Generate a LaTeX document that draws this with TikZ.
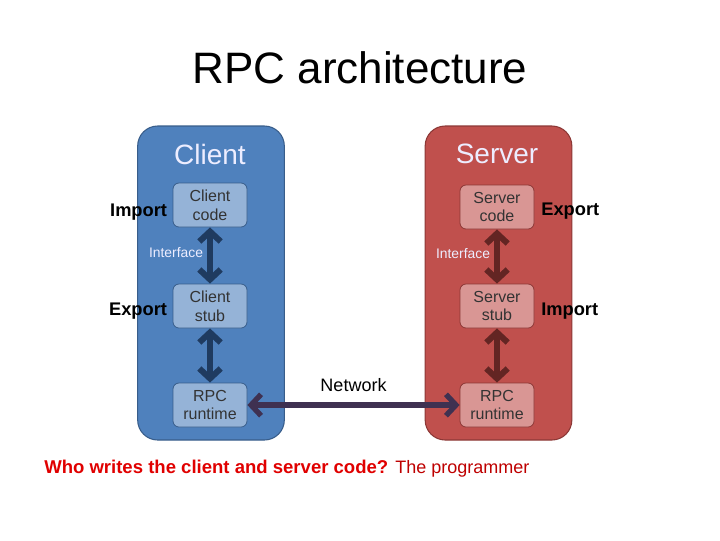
\documentclass[tikz,border=0pt]{standalone}
\usepackage{fontspec}
\setmainfont{Liberation Sans}
\usetikzlibrary{arrows.meta,positioning}
\definecolor{cfill}{HTML}{4F81BD}
\definecolor{cdraw}{HTML}{385D8A}
\definecolor{cinner}{HTML}{95B3D7}
\definecolor{carrow}{HTML}{1F3B60}
\definecolor{sfill}{HTML}{C0504D}
\definecolor{sdraw}{HTML}{8C3836}
\definecolor{sinner}{HTML}{D99694}
\definecolor{sarrow}{HTML}{632523}
\definecolor{netarrow}{HTML}{3F3151}
\definecolor{qred}{HTML}{E00000}
\begin{document}
\begin{tikzpicture}
[x=0.75pt,y=-0.75pt
,outer/.style={draw,line width=0.8pt,rounded corners=15pt,minimum width=110pt,minimum height=235.5pt}
,inner/.style={draw,line width=0.6pt,rounded corners=4.5pt,minimum width=55.5pt,minimum height=33pt,align=center,font=\fontsize{12}{14}\selectfont,text=black!80,inner sep=1pt}
,head/.style={text=white!93!blue,font=\fontsize{21}{25}\selectfont}
,side/.style={font=\bfseries\fontsize{13.7}{16}\selectfont,inner sep=1pt}
,iface/.style={text=white!93!blue,font=\fontsize{10.4}{12}\selectfont,inner sep=3pt}
,link/.style={line width=4.5pt,arrows={Straight Barb[length=7.5pt,width=16pt]-Straight Barb[length=7.5pt,width=16pt]}}
]
\useasboundingbox (0,0) rectangle (720,540);
\node[font=\fontsize{33}{40}\selectfont] (title) at (360,68) {RPC architecture};
\node[outer,fill=cfill,draw=cdraw] (client) at (211,283) {};
\node[outer,fill=sfill,draw=sdraw] (server) at (498.5,283) {};
\node[head] (chead) at (210,154) {Client};
\node[head] (shead) at (497,154) {Server};
\node[inner,fill=cinner,draw=cdraw] (ccode) at (210,205) {Client\\code};
\node[inner,fill=cinner,draw=cdraw] (cstub) at (210,306) {Client\\stub};
\node[inner,fill=cinner,draw=cdraw] (crun) at (210,405) {RPC\\runtime};
\node[inner,fill=sinner,draw=sdraw] (scode) at (497,207) {Server\\code};
\node[inner,fill=sinner,draw=sdraw] (sstub) at (497,306) {Server\\stub};
\node[inner,fill=sinner,draw=sdraw] (srun) at (497,405) {RPC\\runtime};
\node[side,left=3pt of ccode,yshift=-5pt] (cimport) {Import};
\node[side,left=3pt of cstub,yshift=-4pt] (cexport) {Export};
\node[side,right=4pt of scode,yshift=-3pt] (sexport) {Export};
\node[side,right=4pt of sstub,yshift=-4pt] (simport) {Import};
\draw[link,draw=carrow] (ccode) -- node[iface,left,pos=0.45] {Interface} (cstub);
\draw[link,draw=carrow] (cstub) -- (crun);
\draw[link,draw=sarrow] (scode) -- node[iface,left,pos=0.45] {Interface} (sstub);
\draw[link,draw=sarrow] (sstub) -- (srun);
\draw[link,draw=netarrow,line width=4pt] (crun) -- node[above=5pt,font=\fontsize{13.5}{16}\selectfont,text=black] {Network} (srun);
\node[anchor=base west,inner sep=0pt,text=qred,font=\bfseries\fontsize{13.9}{16}\selectfont] (question) at (44,473) {Who writes the client and server code?};
\node[anchor=base west,inner sep=0pt,text=qred!85!black,font=\fontsize{13.5}{16}\selectfont] (answer) at (395,473) {The programmer};
\end{tikzpicture}
\end{document}
